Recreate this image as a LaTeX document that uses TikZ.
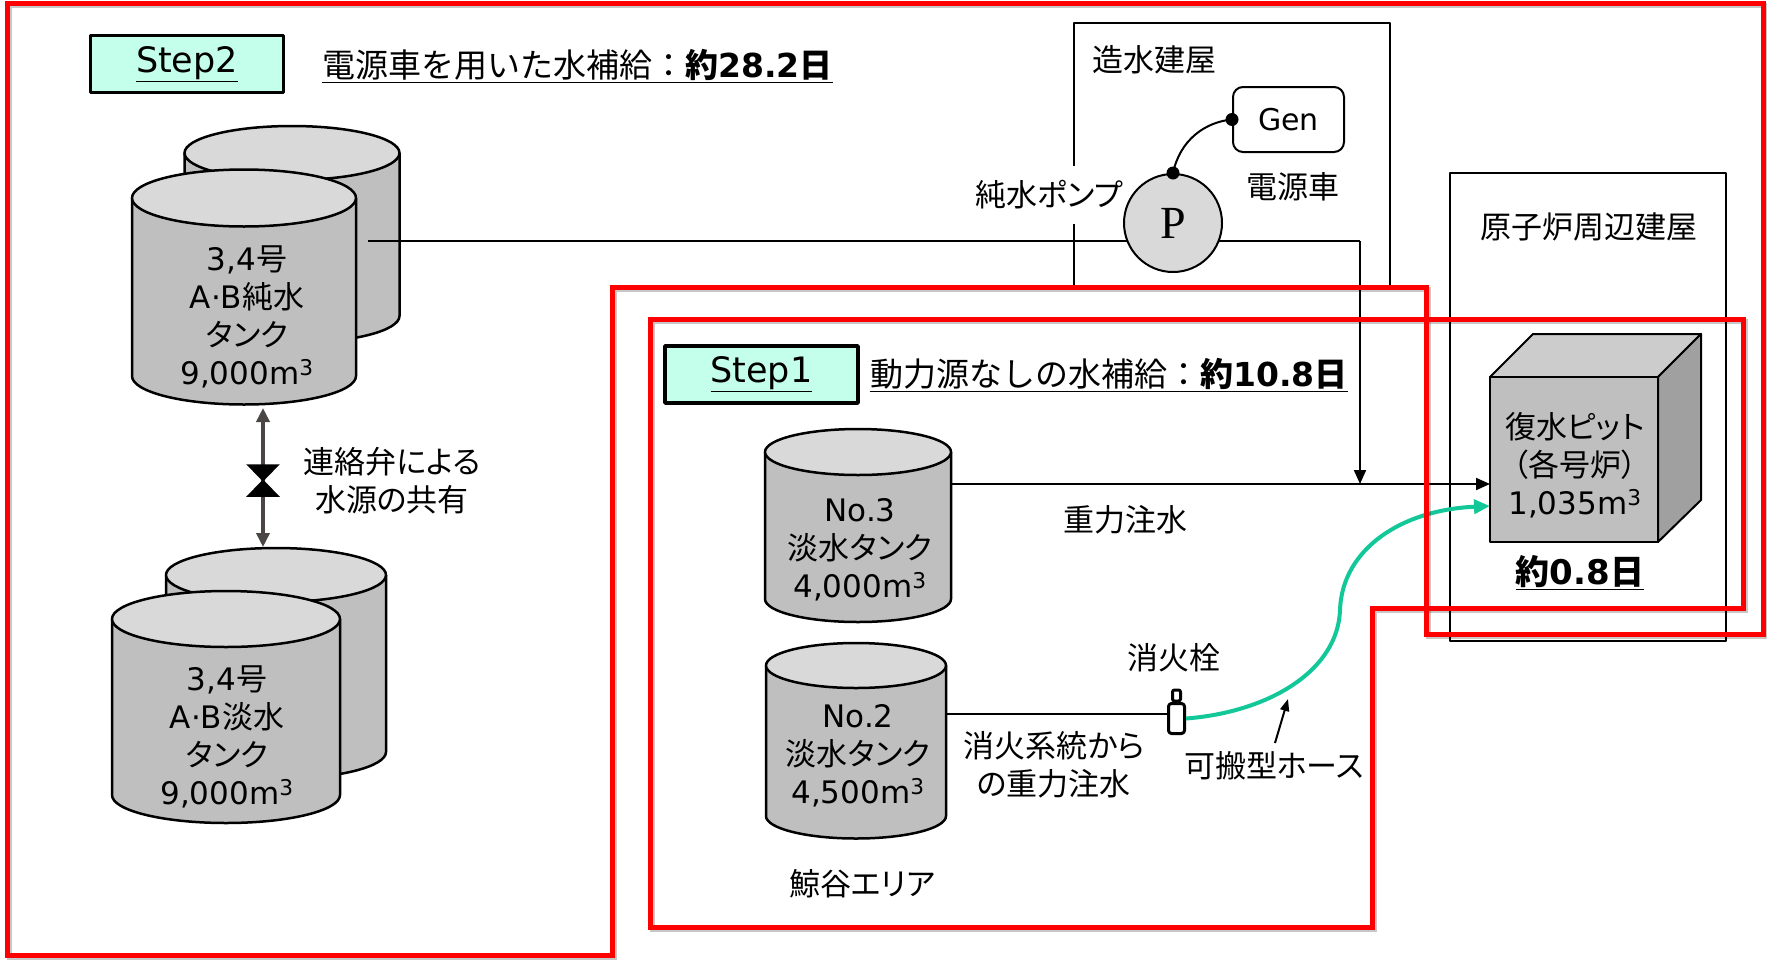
\documentclass[tikz,border=0pt]{standalone}
\usepackage{fontspec}
\setmainfont{Noto Sans CJK JP}[RawFeature=+palt]
\newfontfamily\ttlfont{Noto Sans CJK JP}
\newfontfamily\lat{DejaVu Sans}
\newfontfamily\pfont{Liberation Serif}
\usetikzlibrary{arrows.meta}

\definecolor{redframe}{RGB}{255,0,0}
\definecolor{stepfill}{RGB}{196,255,236}
\definecolor{tankbody}{RGB}{191,191,191}
\definecolor{tanktop}{RGB}{217,217,217}
\definecolor{cubetop}{RGB}{204,204,204}
\definecolor{cubeside}{RGB}{160,160,160}
\definecolor{hosegreen}{RGB}{18,200,152}
\definecolor{linkgray}{RGB}{75,70,70}

% cylinder tank: centre x, top centre y, bottom centre y, x radius, y radius
\newcommand\drawtank[5]{%
  \filldraw[tankline, fill=tankbody] ({#1-#4},#2) -- ({#1-#4},#3)
    arc[start angle=180, end angle=0, x radius=#4, y radius=#5] -- ({#1+#4},#2) -- cycle;
  \filldraw[tankline, fill=tanktop] (#1,#2) ellipse[x radius=#4, y radius=#5];
}
% volume in cubic metres
\newcommand\vol[1]{{\lat #1m\textsuperscript{3}}}

\tikzset{
  txt/.style={font=\fontsize{31}{38}\selectfont, inner sep=0pt, align=center},
  ttl/.style={font=\ttlfont\fontsize{33}{40}\selectfont, inner sep=0pt, anchor=west},
  stepbox/.style={draw, line width=3.5pt, fill=stepfill, minimum width=193pt,
    minimum height=57pt, inner sep=0pt, font=\lat\fontsize{35}{40}\selectfont},
  bldg/.style={draw, line width=2pt},
  pipe/.style={line width=2pt},
  tip/.style={-{Triangle[length=14pt,width=12pt]}},
  tankline/.style={line width=2.5pt, draw=black},
  frame/.style={draw=redframe, line width=5pt, line join=miter},
  frameshadow/.style={draw=black, opacity=0.22, line width=5pt, line join=miter},
  hose/.style={draw=hosegreen, line width=4pt, -{Triangle[length=16pt,width=14pt]}},
  link/.style={draw=linkgray, line width=3.5pt,
    {Triangle[length=14pt,width=13pt]}-{Triangle[length=14pt,width=13pt]}},
}

\begin{document}
\begin{tikzpicture}[x=1pt, y=-1pt, line join=round]
\useasboundingbox[fill=white] (0,0) rectangle (1767,959);

% buildings
\draw[bldg] (1074,287) -- (1074,23) -- (1390,23) -- (1390,287);
\draw[bldg] (1450,173) rectangle (1726,641);

% connection points
\coordinate (pureout) at (368,241);
\coordinate (bend) at (1360,241);
\coordinate (junc) at (1360,484);
\coordinate (no3out) at (950,484);
\coordinate (no2out) at (946,714);
\coordinate (pitin1) at (1490,484);
\coordinate (pitin2) at (1490,506);
\coordinate (hosemid) at (1340,610);
\coordinate (linktop) at (263,408);
\coordinate (linkbot) at (263,547);
\coordinate (hosetail) at (1275,743);
\coordinate (hosept) at (1288,699);

% step 2 tanks
\drawtank{292}{153}{316}{107.5}{27}
\drawtank{244}{198}{376}{112}{28.5}
\drawtank{276}{575}{752}{110}{27}
\drawtank{226}{619}{795}{114}{28}
% step 1 tanks
\drawtank{858}{452}{599}{93}{23}
\drawtank{856}{665.5}{816}{90}{22.5}

% condensate pit (cube)
\filldraw[line width=2pt, fill=cubetop] (1490,377) -- (1533,334) -- (1701,334) -- (1658,377) -- cycle;
\filldraw[line width=2pt, fill=cubeside] (1658,377) -- (1701,334) -- (1701,500) -- (1658,542) -- cycle;
\filldraw[line width=2pt, fill=tankbody] (1490,377) rectangle (1658,542);

% pipes
\draw[pipe] (pureout) -- (bend);
\draw[pipe, tip] (bend) -- (junc);
\draw[pipe, tip] (no3out) -- (pitin1);

% shared valve link
\draw[link] (linktop) -- (linkbot);
\filldraw[line width=1.5pt, line join=miter] (248,465) -- (278,465) -- (263,480.5) -- cycle;
\filldraw[line width=1.5pt, line join=miter] (248,496) -- (278,496) -- (263,480.5) -- cycle;

% pump, generator and cable
\node[txt, fill=white, minimum height=58pt, inner xsep=2pt] (pumplbl) at (1049,195) {純水ポンプ};
\node[circle, draw, line width=2pt, fill=tanktop, minimum size=98pt, inner sep=0pt,
  font=\pfont\fontsize{46}{46}\selectfont] (pump) at (1173,223) {P};
\node[draw, rounded corners=10pt, line width=2pt, minimum width=111pt, minimum height=65pt,
  txt, font=\lat\fontsize{30}{36}\selectfont] (gen) at (1288.5,119.5) {Gen};
\draw[line width=2pt] (pump.north) .. controls (1180,140) and (1205,122) .. (gen.west);
\fill (pump.north) circle (6.5);
\fill (gen.west) circle (6.5);

% fire hydrant
\draw[pipe] (no2out) -- (no2out -| 1167,0);
\node[draw, fill=white, line width=3pt, rounded corners=2pt, minimum width=8pt,
  minimum height=11pt, inner sep=0pt] (hydcap) at (1176.5,695.5) {};
\node[draw, fill=white, line width=3pt, rounded corners=3pt, minimum width=16pt,
  minimum height=30pt, inner sep=0pt] (hyd) at (1176.5,718.5) {};

% portable hose
\draw[hose] (hyd.east) .. controls (1270,712) and (1338,670) .. (hosemid)
  .. controls (1342,550) and (1400,510) .. (pitin2);
\draw[line width=2pt, -{Triangle[length=12pt,width=9pt]}] (hosetail) -- (hosept);

% headings
\node[stepbox] (s2) at (187,64) {\underline{Step2}};
\node[ttl] (t2) at (322,66) {\underline{電源車を用いた水補給：{\bfseries 約{\lat 28.2}日}}};
\node[stepbox] (s1) at (761.5,374.5) {\underline{Step1}};
\node[ttl] (t1) at (870,375) {\underline{動力源なしの水補給：{\bfseries 約{\lat 10.8}日}}};

% labels
\node[txt] (tankAtxt) at (247,317) {{\lat 3,4}号\\{\lat A·B}純水\\タンク\\\vol{9,000}};
\node[txt] (tankBtxt) at (227,737) {{\lat 3,4}号\\{\lat A·B}淡水\\タンク\\\vol{9,000}};
\node[txt] (no3txt) at (860,550) {{\lat No.3}\\淡水タンク\\\vol{4,000}};
\node[txt] (no2txt) at (858,756) {{\lat No.2}\\淡水タンク\\\vol{4,500}};
\node[txt] (pittxt) at (1575,465) {復水ピット\\（各号炉）\\\vol{1,035}};
\node[txt, font=\ttlfont\fontsize{34}{40}\selectfont\bfseries] (pitdays) at (1580,573) {\underline{約{\lat 0.8}日}};
\node[txt, anchor=west] (bldg1lbl) at (1092,60) {造水建屋};
\node[txt] (genlbl) at (1293,187) {電源車};
\node[txt] (bldg2lbl) at (1589,227) {原子炉周辺建屋};
\node[txt] (valvelbl) at (392,481) {連絡弁による\\水源の共有};
\node[txt] (gravlbl) at (1125,520) {重力注水};
\node[txt] (hydlbl) at (1174,658) {消火栓};
\node[txt] (firelbl) at (1054,765) {消火系統から\\の重力注水};
\node[txt] (hoselbl) at (1274,766) {可搬型ホース};
\node[txt] (arealbl) at (862,884) {鯨谷エリア};

% step frames
\begin{scope}[shift={(2.5,2.5)}]
\draw[frameshadow] (7,3) -- (1763,3) -- (1763,634) -- (1426,634) -- (1426,287) -- (612,287) -- (612,955) -- (7,955) -- cycle;
\draw[frameshadow] (650,319) -- (1743,319) -- (1743,608) -- (1372,608) -- (1372,927) -- (650,927) -- cycle;
\end{scope}
\draw[frame] (7,3) -- (1763,3) -- (1763,634) -- (1426,634) -- (1426,287) -- (612,287) -- (612,955) -- (7,955) -- cycle;
\draw[frame] (650,319) -- (1743,319) -- (1743,608) -- (1372,608) -- (1372,927) -- (650,927) -- cycle;
\end{tikzpicture}
\end{document}
